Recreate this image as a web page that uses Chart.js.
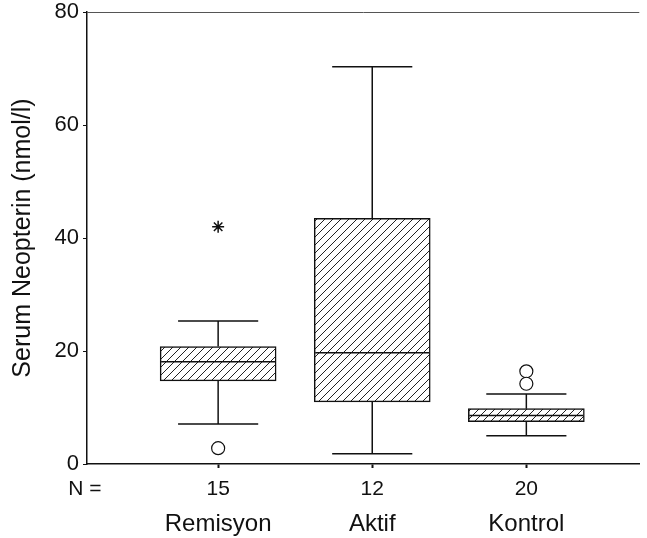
<!DOCTYPE html>
<html>
<head>
<meta charset="utf-8">
<script src="https://cdn.jsdelivr.net/npm/chart.js@4.4.1/dist/chart.umd.min.js"></script>
<style>
  html, body { margin: 0; padding: 0; background: #fff; }
  #wrap { width: 647px; height: 538px; }
</style>
</head>
<body>
<div id="wrap"><canvas id="c" width="647" height="538"></canvas></div>
<script>
// ---- data ----
const categories   = ['Remisyon', 'Aktif', 'Kontrol'];
const counts       = [15, 12, 20];
const whiskerLow   = [7.1, 1.8, 5.0];
const q1           = [14.7, 11.0, 7.5];
const median       = [18.1, 19.7, 8.6];
const q3           = [20.8, 43.5, 9.8];
const whiskerHigh  = [25.3, 70.3, 12.4];
const outliers     = [[2.8], [], [16.4, 14.2]];   // circles
const extremes     = [[42.0], [], []];            // asterisks
const yTicks       = [0, 20, 40, 60, 80];

// ---- styling constants ----
const FONT = "'Liberation Sans', Arial, Helvetica, sans-serif";
const capHalf = 0.26;    // in category units
const boxHalf = 0.37;

function hatch() {
  const s = 8;
  const c = document.createElement('canvas');
  c.width = s; c.height = s;
  const g = c.getContext('2d');
  g.fillStyle = '#fff'; g.fillRect(0, 0, s, s);
  g.strokeStyle = '#222'; g.lineWidth = 1;
  g.beginPath();
  g.moveTo(0, s); g.lineTo(s, 0);
  g.moveTo(-s / 2, s / 2); g.lineTo(s / 2, -s / 2);
  g.moveTo(s / 2, s * 1.5); g.lineTo(s * 1.5, s / 2);
  g.stroke();
  return g.createPattern(c, 'repeat');
}

const pos = categories.map((_, i) => i + 1);

const boxData = pos.map((x, i) => ({ x, y: [q1[i], q3[i]] }));

const whiskerData = [];
pos.forEach((x, i) => {
  whiskerData.push({ x, y: q3[i] }, { x, y: whiskerHigh[i] }, { x, y: null });
  whiskerData.push({ x, y: q1[i] }, { x, y: whiskerLow[i] }, { x, y: null });
  whiskerData.push({ x: x - capHalf, y: whiskerHigh[i] }, { x: x + capHalf, y: whiskerHigh[i] }, { x, y: null });
  whiskerData.push({ x: x - capHalf, y: whiskerLow[i] }, { x: x + capHalf, y: whiskerLow[i] }, { x, y: null });
  whiskerData.push({ x: x - boxHalf, y: median[i] }, { x: x + boxHalf, y: median[i] }, { x, y: null });
});

const outData = [];
pos.forEach((x, i) => outliers[i].forEach(v => outData.push({ x, y: v })));
const extData = [];
pos.forEach((x, i) => extremes[i].forEach(v => extData.push({ x, y: v })));

const nLabel = {
  id: 'nLabel',
  afterDraw(chart) {
    const ctx = chart.ctx;
    const xs = chart.scales.x;
    ctx.save();
    ctx.font = '21px ' + FONT;
    ctx.fillStyle = '#111';
    ctx.textAlign = 'center';
    ctx.textBaseline = 'middle';
    ctx.fillText('N =', xs.left - 2, xs.top + 25);
    ctx.restore();
  }
};

new Chart(document.getElementById('c'), {
  data: {
    datasets: [
      {
        type: 'bar',
        data: boxData,
        backgroundColor: hatch(),
        borderColor: '#111',
        borderWidth: 1.5,
        borderSkipped: false,
        barThickness: 116,
        order: 3
      },
      {
        type: 'line',
        data: whiskerData,
        borderColor: '#111',
        borderWidth: 1.5,
        pointRadius: 0,
        spanGaps: false,
        fill: false,
        order: 1
      },
      {
        type: 'scatter',
        data: outData,
        pointStyle: 'circle',
        pointRadius: 6.5,
        backgroundColor: '#fff',
        borderColor: '#111',
        borderWidth: 1.2,
        order: 0
      },
      {
        type: 'scatter',
        data: extData,
        pointStyle: 'star',
        pointRadius: 6,
        backgroundColor: '#111',
        borderColor: '#111',
        borderWidth: 1.5,
        order: 0
      }
    ]
  },
  options: {
    responsive: false,
    animation: false,
    layout: { padding: { top: 12, right: 0, bottom: 0, left: 0 } },
    plugins: { legend: { display: false }, tooltip: { enabled: false } },
    scales: {
      x: {
        type: 'linear',
        offset: false,
        min: 0.149,
        max: 3.733,
        afterBuildTicks: s => { s.ticks = pos.map(v => ({ value: v })); },
        afterFit: s => { s.height = 38; },
        ticks: {
          color: '#111',
          font: { family: FONT, size: 21 },
          padding: 9,
          maxRotation: 0,
          autoSkip: false,
          callback: v => String(counts[v - 1])
        },
        grid: { offset: false, drawOnChartArea: false, tickLength: 4, tickColor: '#111', tickWidth: 2 },
        border: { display: true, color: '#111', width: 1.5 }
      },
      x2: {
        type: 'linear',
        position: 'bottom',
        offset: false,
        min: 0.149,
        max: 3.733,
        afterBuildTicks: s => { s.ticks = pos.map(v => ({ value: v })); },
        afterFit: s => { s.height = 36; },
        ticks: {
          color: '#111',
          font: { family: FONT, size: 24 },
          padding: 0,
          maxRotation: 0,
          autoSkip: false,
          callback: v => categories[v - 1]
        },
        grid: { display: false, offset: false },
        border: { display: false }
      },
      y: {
        type: 'linear',
        min: 0,
        max: 80,
        afterBuildTicks: s => { s.ticks = yTicks.map(v => ({ value: v })); },
        afterFit: s => { s.width = 87; s.paddingTop = 0; s.paddingBottom = 0; },
        ticks: {
          color: '#111',
          font: { family: FONT, size: 22 },
          padding: 4
        },
        grid: {
          color: c => (c.tick && c.tick.value === 80 ? '#555' : 'rgba(0,0,0,0)'),
          lineWidth: 1,
          tickLength: 4,
          tickColor: '#111'
        },
        border: { display: true, color: '#111', width: 1.5 },
        title: {
          display: true,
          text: 'Serum Neopterin (nmol/l)',
          color: '#111',
          font: { family: FONT, size: 25 },
          padding: { top: 8, bottom: 0 }
        }
      }
    }
  },
  plugins: [nLabel]
});
</script>
</body>
</html>
